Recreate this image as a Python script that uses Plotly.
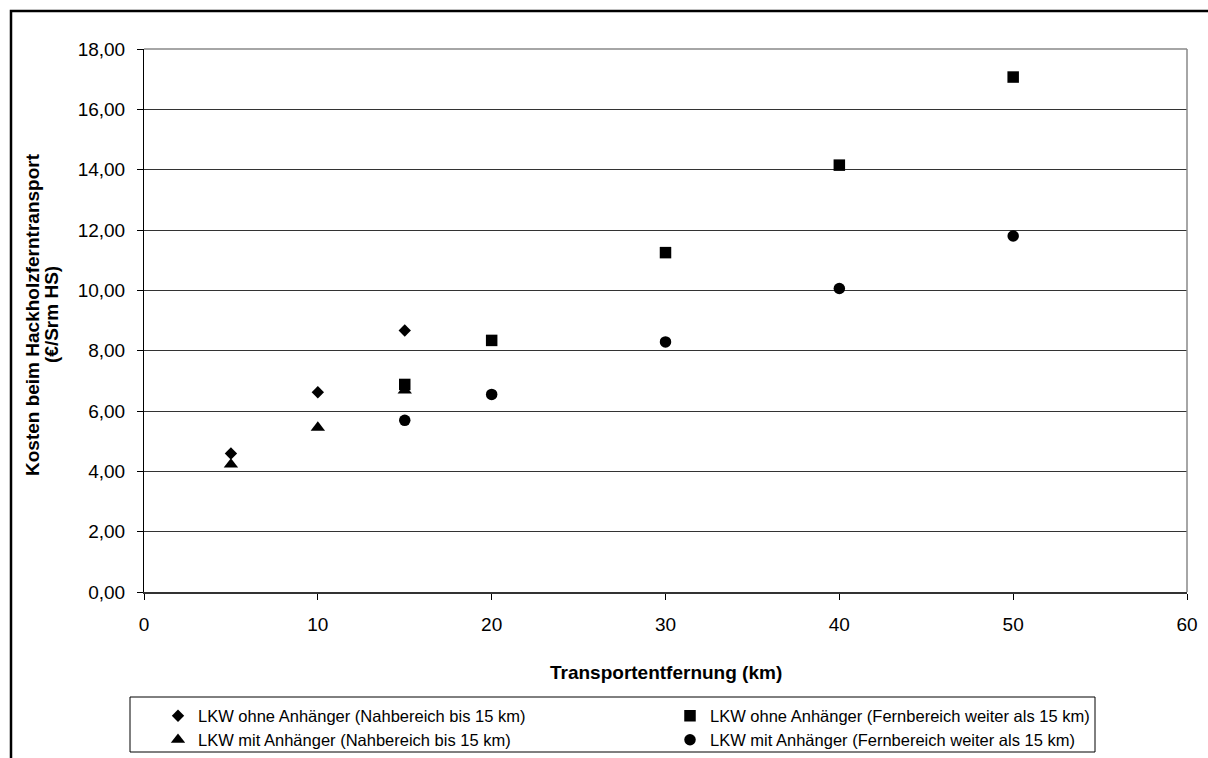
import plotly.graph_objects as go

# Transportentfernung (km) und Kosten (€/Srm HS) je Fahrzeugvariante
x_ohne_nah = [5, 10, 15]
y_ohne_nah = [4.59, 6.62, 8.67]

x_ohne_fern = [15, 20, 30, 40, 50]
y_ohne_fern = [6.88, 8.34, 11.25, 14.15, 17.07]

x_mit_nah = [5, 10, 15]
y_mit_nah = [4.23, 5.45, 6.68]

x_mit_fern = [15, 20, 30, 40, 50]
y_mit_fern = [5.69, 6.55, 8.29, 10.06, 11.80]

names = [
    "LKW ohne Anhänger (Nahbereich bis 15 km)",
    "LKW ohne Anhänger (Fernbereich weiter als 15 km)",
    "LKW mit Anhänger (Nahbereich bis 15 km)",
    "LKW mit Anhänger (Fernbereich weiter als 15 km)",
]

x_ticks = [0, 10, 20, 30, 40, 50, 60]
y_ticks = [0, 2, 4, 6, 8, 10, 12, 14, 16, 18]

W, H = 1208, 758
L, R, T, B = 144, 21, 49, 166
PW, PH = W - L - R, H - T - B


def px(xp):
    return (xp - L) / PW


def py(yp):
    return (H - B - yp) / PH


FONT = "Liberation Sans, Arial, sans-serif"

fig = go.Figure()
series = [
    (x_ohne_nah, y_ohne_nah, "diamond", 9.5, "legend"),
    (x_ohne_fern, y_ohne_fern, "square", 11.5, "legend2"),
    (x_mit_nah, y_mit_nah, "triangle-up", 12.5, "legend3"),
    (x_mit_fern, y_mit_fern, "circle", 11.5, "legend4"),
]
for (xs, ys, sym, size, leg), name in zip(series, names):
    fig.add_trace(go.Scatter(
        x=xs, y=ys, mode="markers", name=name, legend=leg, showlegend=True,
        marker=dict(symbol=sym, size=size, color="black", line=dict(width=0)),
    ))

leg_font = dict(family=FONT, size=16.5, color="black")
leg_common = dict(orientation="v", xanchor="left", yanchor="middle",
                  bgcolor="rgba(0,0,0,0)", borderwidth=0, font=leg_font,
                  visible=True)
ROW1, ROW2 = 716, 740
fig.update_layout(
    showlegend=True,
    legend=dict(x=px(158), y=py(ROW1), **leg_common),
    legend2=dict(x=px(670), y=py(ROW1), **leg_common),
    legend3=dict(x=px(158), y=py(ROW2), **leg_common),
    legend4=dict(x=px(670), y=py(ROW2), **leg_common),
)

fig.update_xaxes(
    range=[0, 60], tickvals=x_ticks, ticktext=[str(v) for v in x_ticks],
    showgrid=False, zeroline=False,
    showline=True, linecolor="#333333", linewidth=2,
    ticks="outside", ticklen=6, tickcolor="black", tickwidth=1,
    ticklabelstandoff=8,
    tickfont=dict(family=FONT, size=19, color="black"),
)
fig.update_yaxes(
    range=[0, 18], tickvals=y_ticks, tickformat=".2f",
    showgrid=True, gridcolor="#333333", gridwidth=1, zeroline=False,
    showline=True, linecolor="black", linewidth=1,
    ticks="outside", ticklen=6, tickcolor="black", tickwidth=1,
    ticklabelstandoff=8,
    tickfont=dict(family=FONT, size=19, color="black"),
)

shapes = [
    # plot area border (top and right)
    dict(type="line", xref="paper", yref="paper", x0=0, y0=1, x1=1, y1=1,
         line=dict(color="#888888", width=1.5), layer="above"),
    dict(type="line", xref="paper", yref="paper", x0=1, y0=0, x1=1, y1=1,
         line=dict(color="#888888", width=1.5), layer="above"),
    # chart frame
    dict(type="path", xref="paper", yref="paper",
         path=f"M {px(11)} {py(760)} L {px(11)} {py(11)} L {px(1210)} {py(11)}",
         line=dict(color="black", width=2.5)),
    # legend box
    dict(type="rect", xref="paper", yref="paper",
         x0=px(130), y0=py(697), x1=px(1095), y1=py(752),
         line=dict(color="black", width=1), fillcolor="rgba(0,0,0,0)"),
]

title_font = dict(family=FONT, size=19, color="black")
annotations = [
    dict(text="<b>Transportentfernung (km)</b>", xref="paper", yref="paper",
         x=0.5, y=py(672), xanchor="center", yanchor="middle", showarrow=False,
         font=title_font),
    dict(text="<b>Kosten beim Hackholzferntransport</b>",
         xref="paper", yref="paper", x=px(32), y=py(315), xanchor="center",
         yanchor="middle", textangle=-90, showarrow=False, font=title_font),
    dict(text="<b>(€/Srm HS)</b>",
         xref="paper", yref="paper", x=px(51), y=py(315), xanchor="center",
         yanchor="middle", textangle=-90, showarrow=False, font=title_font),
]

fig.update_layout(
    width=W, height=H,
    margin=dict(l=L, r=R, t=T, b=B, autoexpand=False),
    paper_bgcolor="white", plot_bgcolor="white",
    separators=",.",
    shapes=shapes, annotations=annotations,
    font=dict(family=FONT, color="black"),
)

fig.write_html("out.html")
